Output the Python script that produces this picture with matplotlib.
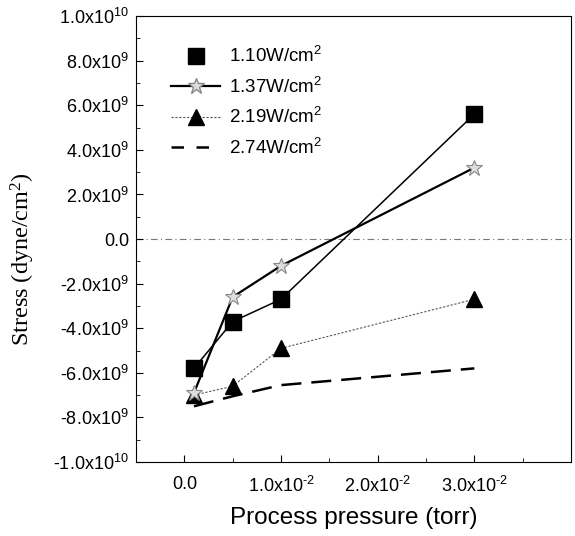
import matplotlib
matplotlib.use("Agg")
import matplotlib.pyplot as plt
from matplotlib.lines import Line2D
from matplotlib.ticker import MultipleLocator, FixedLocator

plt.rcParams['font.family'] = ['Liberation Sans', 'DejaVu Sans']
plt.rcParams['mathtext.fontset'] = 'custom'
plt.rcParams['mathtext.rm'] = 'Liberation Sans'
plt.rcParams['mathtext.default'] = 'regular'

# pressure (torr)
pressure = [0.001, 0.005, 0.010, 0.030]
# stress (dyne/cm^2) for each RF power density
s_110 = [-5.8e9, -3.7e9, -2.7e9, 5.6e9]
s_137 = [-6.9e9, -2.6e9, -1.2e9, 3.2e9]
s_219 = [-7.0e9, -6.6e9, -4.9e9, -2.7e9]
s_274 = [-7.5e9, -7.05e9, -6.55e9, -5.8e9]

labels = ['1.10W/cm$^2$', '1.37W/cm$^2$', '2.19W/cm$^2$', '2.74W/cm$^2$']

yticks = [1.0e10, 8e9, 6e9, 4e9, 2e9, 0, -2e9, -4e9, -6e9, -8e9, -1.0e10]
ytick_labels = ['1.0x10$^{10}$', '8.0x10$^{9}$', '6.0x10$^{9}$', '4.0x10$^{9}$',
                '2.0x10$^{9}$', '0.0', '-2.0x10$^{9}$', '-4.0x10$^{9}$',
                '-6.0x10$^{9}$', '-8.0x10$^{9}$', '-1.0x10$^{10}$']
xticks = [0.0, 0.01, 0.02, 0.03]
xtick_labels = ['0.0', '1.0x10$^{\\text{-}2}$', '2.0x10$^{\\text{-}2}$', '3.0x10$^{\\text{-}2}$']

fig = plt.figure(figsize=(5.75, 5.36), dpi=100)
ax = fig.add_axes([0.2365, 0.138, 0.7565, 0.832])

ax.axhline(0, color='#777777', lw=0.8, ls=(0, (6, 3, 1, 3)), zorder=1)

ax.plot(pressure, s_274, color='black', lw=1.8, ls=(0, (8, 4)), zorder=2)
ax.plot(pressure, s_219, color='#555555', lw=0.8, ls=(0, (2, 1.5)), zorder=2)
ax.plot(pressure, s_219, ls='none', marker='^', ms=12, color='black', zorder=3)
ax.plot(pressure, s_110, color='black', lw=1.1, zorder=2)
ax.plot(pressure, s_110, ls='none', marker='s', ms=11, color='black', zorder=3)
ax.plot(pressure, s_137, color='black', lw=1.6, zorder=2)
ax.plot(pressure, s_137, ls='none', marker='*', ms=12, mfc='#dddddd', mec='#888888',
        mew=0.8, zorder=4)

handles = [
    Line2D([], [], ls='none', marker='s', ms=11, color='black'),
    Line2D([], [], color='black', lw=1.6, marker='*', ms=12, mfc='#dddddd', mec='#888888'),
    Line2D([], [], color='#555555', lw=0.8, ls=(0, (2, 1.5)), marker='^', ms=12,
           mfc='black', mec='black'),
    Line2D([], [], color='black', lw=1.8, ls=(0, (5, 5))),
]
ax.legend(handles, labels, loc='upper left', bbox_to_anchor=(0.042, 0.97),
          frameon=False, fontsize=13.5, handlelength=2.6, handletextpad=0.5,
          labelspacing=0.55)

ax.set_xlim(-0.005, 0.04)
ax.set_ylim(-1.0e10, 1.0e10)
ax.yaxis.set_major_locator(FixedLocator(yticks))
ax.set_yticklabels(ytick_labels)
ax.yaxis.set_minor_locator(MultipleLocator(1e9))
ax.xaxis.set_major_locator(FixedLocator(xticks))
ax.set_xticklabels(xtick_labels)
ax.xaxis.set_minor_locator(MultipleLocator(0.005))
ax.tick_params(which='both', direction='in', labelsize=13)
ax.tick_params(which='major', length=5)
ax.tick_params(which='minor', length=3)
ax.tick_params(axis='x', pad=10)
ax.tick_params(axis='y', pad=5)

ax.set_xlabel('Process pressure (torr)', fontsize=17.5, labelpad=8)
ax.set_ylabel('Stress (dyne/cm$^2$)', fontsize=17.5, family='Liberation Serif')
ax.yaxis.set_label_coords(-0.227, 0.455)

fig.savefig('out.png', dpi=100)
